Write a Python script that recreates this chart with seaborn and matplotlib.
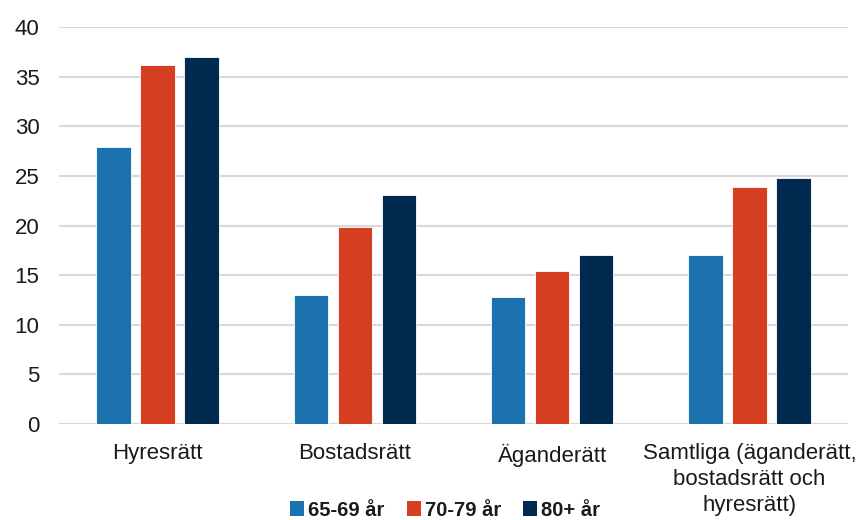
import matplotlib
matplotlib.use("Agg")
import matplotlib.pyplot as plt
import seaborn as sns
import pandas as pd
from matplotlib.patches import Patch

# Andel (%) per upplåtelseform och åldersgrupp
categories = ["Hyresrätt", "Bostadsrätt", "Äganderätt",
              "Samtliga (äganderätt,\nbostadsrätt och\nhyresrätt)"]
age_groups = ["65-69 år", "70-79 år", "80+ år"]
values_65_69 = [27.9, 13.0, 12.8, 17.0]
values_70_79 = [36.2, 19.8, 15.4, 23.9]
values_80_plus = [37.0, 23.1, 17.0, 24.8]
y_ticks = [0, 5, 10, 15, 20, 25, 30, 35, 40]

colors = ["#1b72ae", "#d53e21", "#002a50"]

df = pd.DataFrame({
    "kategori": categories * 3,
    "grupp": [age_groups[0]] * 4 + [age_groups[1]] * 4 + [age_groups[2]] * 4,
    "andel": values_65_69 + values_70_79 + values_80_plus,
})

sns.set_theme(style="white")
plt.rcParams["font.family"] = ["Liberation Sans", "DejaVu Sans"]

fig = plt.figure(figsize=(8.62, 5.2), dpi=100)
ax = fig.add_axes([59 / 862, 1 - 424 / 520, (848 - 59) / 862, (424 - 27) / 520])

sns.barplot(data=df, x="kategori", y="andel", hue="grupp", order=categories,
            hue_order=age_groups, palette=colors, width=0.67, gap=0.22,
            legend=False, ax=ax, edgecolor="#ffffff", linewidth=0.6,
            saturation=1, errorbar=None, zorder=3)

ax.set_ylim(0, 40)
ax.set_xlim(-0.5, 3.5)
ax.set_yticks(y_ticks)
ax.set_yticklabels([str(t) for t in y_ticks])
ax.yaxis.grid(True, color="#d9d9d9", linewidth=1.5, zorder=0)
ax.xaxis.grid(False)
ax.set_axisbelow(True)
for side in ["left", "right", "top", "bottom"]:
    ax.spines[side].set_visible(False)
ax.axhline(0, color="#d9d9d9", linewidth=1.5, zorder=1)
ax.tick_params(axis="both", length=0, labelsize=16, colors="#1a1a1a")
ax.tick_params(axis="y", pad=14)
ax.tick_params(axis="x", pad=14)
for lbl in ax.get_xticklabels():
    lbl.set_linespacing(1.3)
ax.set_xlabel("")
ax.set_ylabel("")

handles = [Patch(facecolor=c, edgecolor="none") for c in colors]
fig.legend(handles, age_groups, loc="center", ncol=3,
           bbox_to_anchor=(445 / 862, 1 - 510 / 520), frameon=False,
           prop={"weight": "bold", "size": 14.5}, handlelength=0.7,
           handleheight=0.7, handletextpad=0.2, columnspacing=1.1,
           borderaxespad=0, labelcolor="#1a1a1a")

fig.savefig("out.png", dpi=100)
